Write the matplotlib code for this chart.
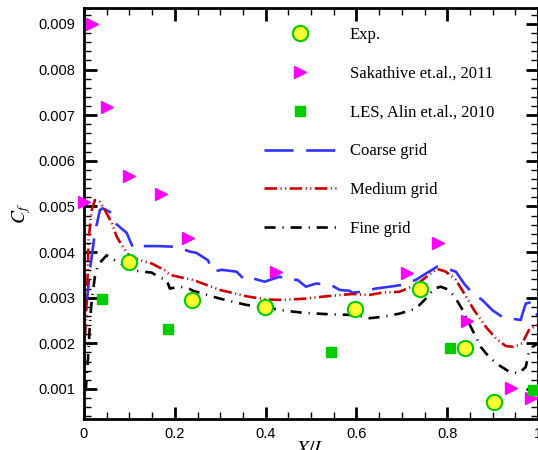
import numpy as np
import matplotlib
matplotlib.use("Agg")
import matplotlib.pyplot as plt
from matplotlib.ticker import MultipleLocator, FuncFormatter

# experiment and reference data
exp_x = [0.099, 0.237, 0.399, 0.597, 0.741, 0.840, 0.903]
exp_y = [0.00378, 0.00295, 0.00279, 0.00275, 0.00318, 0.0019, 0.00071]

sak_x = [0.0, 0.018, 0.051, 0.100, 0.169, 0.229, 0.424, 0.712, 0.779, 0.843, 0.940, 0.985]
sak_y = [0.0051, 0.009, 0.00718, 0.00567, 0.00527, 0.0043, 0.00357, 0.00353, 0.00419, 0.00249, 0.00101, 0.0008]

les_x = [0.040, 0.185, 0.544, 0.807, 0.988]
les_y = [0.00298, 0.00232, 0.00181, 0.0019, 0.00097]

# simulations
coarse_x = [0.0, 0.006, 0.013, 0.024, 0.035, 0.041, 0.061, 0.068, 0.094, 0.108, 0.119,
            0.160, 0.193, 0.211, 0.233, 0.248, 0.273, 0.284, 0.303, 0.336, 0.354, 0.369,
            0.398, 0.431, 0.448, 0.470, 0.489, 0.511, 0.544, 0.563, 0.585, 0.591, 0.613,
            0.643, 0.673, 0.701, 0.731, 0.760, 0.778, 0.797, 0.819, 0.837, 0.855, 0.877,
            0.899, 0.921, 0.936, 0.962, 0.965, 0.973, 0.984, 0.991, 1.0]
coarse_y = [0.00277, 0.00288, 0.00361, 0.00442, 0.00492, 0.00496, 0.00486, 0.00464, 0.00442,
            0.00409, 0.00413, 0.00413, 0.00412, 0.00409, 0.00401, 0.00398, 0.00382, 0.00357,
            0.00361, 0.00357, 0.00339, 0.00343, 0.00335, 0.00346, 0.00339, 0.00339, 0.00324,
            0.00331, 0.00328, 0.00317, 0.00315, 0.00311, 0.00313, 0.0032, 0.00324, 0.00328,
            0.00339, 0.00357, 0.00368, 0.00364, 0.00357, 0.00331, 0.0031, 0.00295, 0.00273,
            0.00258, 0.00255, 0.00251, 0.00262, 0.00287, 0.0029, 0.00273, 0.0026]

medium_x = [0.0, 0.004, 0.008, 0.010, 0.017, 0.024, 0.035, 0.046, 0.061, 0.072, 0.083,
            0.101, 0.123, 0.149, 0.178, 0.189, 0.211, 0.240, 0.299, 0.358, 0.402, 0.437,
            0.489, 0.533, 0.591, 0.629, 0.657, 0.695, 0.731, 0.760, 0.778, 0.797, 0.819,
            0.837, 0.859, 0.885, 0.907, 0.929, 0.947, 0.965, 0.980, 0.991, 1.0]
medium_y = [0.0016, 0.0025, 0.0035, 0.00426, 0.00492, 0.00514, 0.0051, 0.00492, 0.00464,
            0.00434, 0.00415, 0.0039, 0.00382, 0.00375, 0.0036, 0.0035, 0.00345, 0.00339,
            0.00317, 0.00303, 0.00296, 0.00295, 0.00298, 0.00303, 0.00308, 0.00306, 0.00311,
            0.00313, 0.00328, 0.0035, 0.00363, 0.00357, 0.00339, 0.0031, 0.00273, 0.00236,
            0.00211, 0.00194, 0.00192, 0.002, 0.00229, 0.00236, 0.0024]

fine_x = [0.0, 0.006, 0.009, 0.013, 0.017, 0.024, 0.031, 0.050, 0.068, 0.086, 0.105,
          0.130, 0.149, 0.167, 0.182, 0.189, 0.211, 0.229, 0.240, 0.299, 0.358, 0.402,
          0.431, 0.481, 0.533, 0.591, 0.607, 0.629, 0.657, 0.695, 0.731, 0.753, 0.771,
          0.786, 0.804, 0.819, 0.834, 0.852, 0.874, 0.892, 0.914, 0.936, 0.958, 0.973,
          0.980, 0.988, 1.0]
fine_y = [0.00038, 0.00127, 0.0017, 0.00244, 0.00295, 0.00346, 0.00372, 0.00393, 0.00382,
          0.00372, 0.0036, 0.00357, 0.00355, 0.00344, 0.00339, 0.0032, 0.00324, 0.00321,
          0.00315, 0.00298, 0.00284, 0.00279, 0.00273, 0.00267, 0.00264, 0.00262, 0.0026,
          0.00255, 0.00258, 0.00265, 0.00276, 0.00298, 0.0032, 0.00324, 0.00317, 0.00298,
          0.00273, 0.00236, 0.00192, 0.0017, 0.00152, 0.00138, 0.00134, 0.00148, 0.00181,
          0.00192, 0.002]

plt.rcParams['lines.scale_dashes'] = False
plt.rcParams['mathtext.fontset'] = 'stix'

fig = plt.figure(figsize=(5.38, 4.5), dpi=100)
ax = fig.add_axes([84/538, 1 - 419/450, 454/538, 411/450])

ax.plot(coarse_x, coarse_y, color='#3333ff', lw=1.9, dashes=(21, 9), label='Coarse grid')
ax.plot(medium_x, medium_y, color='#cc0000', lw=1.9, dashes=(9, 2.5, 0.8, 2.5, 0.8, 2.5),
        label='Medium grid')
ax.plot(fine_x, fine_y, color='black', lw=1.9, dashes=(8, 5, 0.8, 5), label='Fine grid')

ax.plot(exp_x, exp_y, ls='none', marker='o', ms=11, mfc='#ffff33', mec='#00cc00', mew=1.5,
        label='Exp.', zorder=5, clip_on=False)
ax.plot(sak_x, sak_y, ls='none', marker='>', ms=8.5, color='#ff00ff',
        label='Sakathive et.al., 2011', zorder=4, clip_on=False)
ax.plot(les_x, les_y, ls='none', marker='s', ms=7, color='#00cc00',
        label='LES, Alin et.al., 2010', zorder=4, clip_on=False)

ax.set_xlim(0, 1)
ax.set_ylim(0.00034, 0.00935)
ax.xaxis.set_major_locator(MultipleLocator(0.2))
ax.xaxis.set_minor_locator(MultipleLocator(0.05))
ax.yaxis.set_major_locator(MultipleLocator(0.001))
ax.yaxis.set_minor_locator(MultipleLocator(0.0002))
ax.xaxis.set_major_formatter(FuncFormatter(lambda v, p: '%g' % round(v, 3)))
ax.yaxis.set_major_formatter(FuncFormatter(lambda v, p: '%.3f' % v))

ax.tick_params(which='both', direction='in', top=True, right=True)
ax.tick_params(which='major', length=9, width=2, labelsize=10.5, pad=6)
ax.tick_params(which='minor', length=5, width=1)
for lab in ax.get_xticklabels() + ax.get_yticklabels():
    lab.set_family('Liberation Sans')
for s in ax.spines.values():
    s.set_linewidth(2)

ax.set_xlabel('$X/L$', fontsize=14, labelpad=-2)
ax.set_ylabel('$C_f$', fontsize=14, labelpad=4)

h, l = ax.get_legend_handles_labels()
order = [3, 4, 5, 0, 1, 2]
leg = ax.legend([h[i] for i in order], [l[i] for i in order], frameon=False,
                loc='upper left', bbox_to_anchor=(0.382, 0.970), handlelength=4.3,
                handletextpad=0.85, labelspacing=1.37, borderaxespad=0,
                prop={'family': 'Liberation Serif', 'size': 12})

fig.savefig('out.png', dpi=100)
